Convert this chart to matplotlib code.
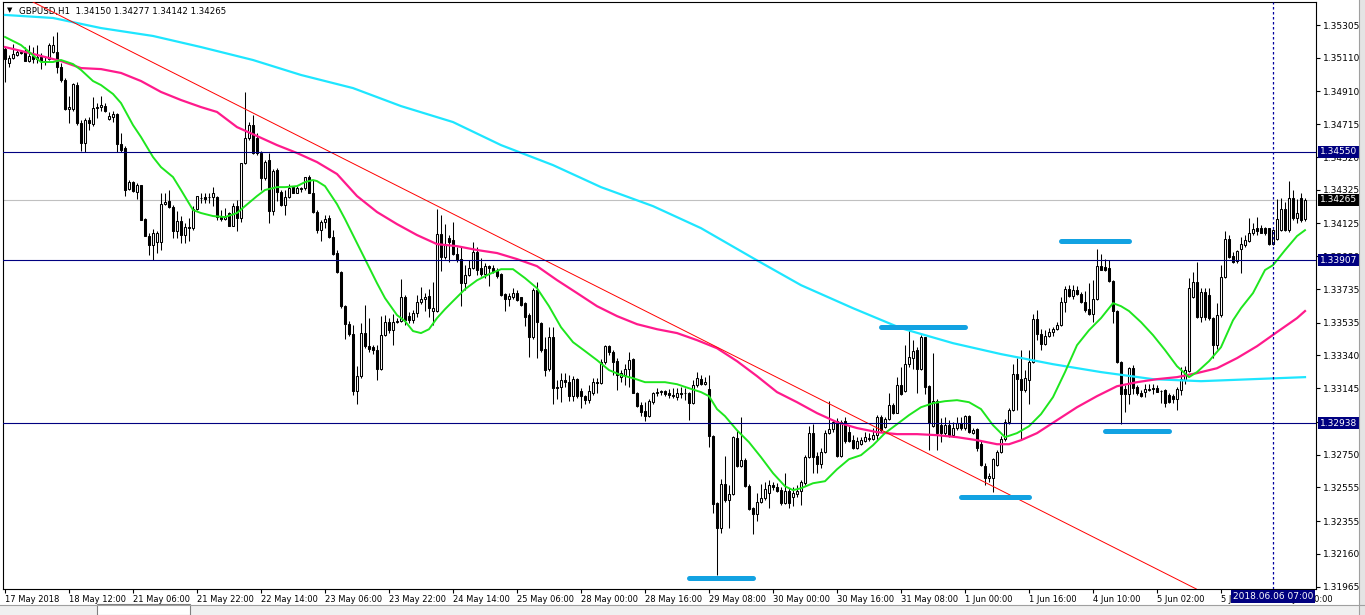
import numpy as np
import matplotlib
matplotlib.use("Agg")
import matplotlib.pyplot as plt
import matplotlib.transforms as mtrans
from matplotlib.patches import Rectangle
from matplotlib.lines import Line2D

# GBPUSD H1, one entry per hourly bar, bar 0 = 17 May 2018 20:00
opens = [
    1.35161, 1.35082, 1.35107, 1.35129, 1.35145, 1.35153, 1.35093, 1.35121, 1.35101, 1.35113,
    1.35093, 1.35101, 1.35147, 1.35147, 1.35058, 1.34979, 1.34804, 1.34808, 1.34949, 1.34725,
    1.34606, 1.34741, 1.34717, 1.34810, 1.34816, 1.34824, 1.34749, 1.34761, 1.34775, 1.34598,
    1.34573, 1.34329, 1.34371, 1.34315, 1.34351, 1.34151, 1.34052, 1.33999, 1.34012, 1.34012,
    1.34242, 1.34260, 1.34222, 1.34078, 1.34141, 1.34058, 1.34103, 1.34097, 1.34210, 1.34275,
    1.34281, 1.34281, 1.34281, 1.34285, 1.34162, 1.34150, 1.34190, 1.34111, 1.34230, 1.34156,
    1.34483, 1.34632, 1.34711, 1.34632, 1.34546, 1.34394, 1.34503, 1.34202, 1.34443, 1.34315,
    1.34236, 1.34285, 1.34340, 1.34309, 1.34335, 1.34335, 1.34400, 1.34309, 1.34196, 1.34087,
    1.34131, 1.34156, 1.34043, 1.33948, 1.33834, 1.33636, 1.33529, 1.33470, 1.33127, 1.33216,
    1.33473, 1.33394, 1.33390, 1.33370, 1.33259, 1.33463, 1.33537, 1.33489, 1.33541, 1.33547,
    1.33686, 1.33575, 1.33551, 1.33591, 1.33660, 1.33674, 1.33694, 1.33607, 1.33607, 1.34062,
    1.33923, 1.34036, 1.34026, 1.33943, 1.33912, 1.33773, 1.33819, 1.33858, 1.33957, 1.33858,
    1.33824, 1.33872, 1.33858, 1.33844, 1.33824, 1.33704, 1.33674, 1.33686, 1.33710, 1.33686,
    1.33654, 1.33581, 1.33448, 1.33729, 1.33531, 1.33377, 1.33258, 1.33448, 1.33155, 1.33151,
    1.33195, 1.33185, 1.33096, 1.33199, 1.33126, 1.33100, 1.33076, 1.33114, 1.33183, 1.33177,
    1.33302, 1.33395, 1.33361, 1.33308, 1.33213, 1.33223, 1.33262, 1.33316, 1.33118, 1.33045,
    1.33011, 1.32979, 1.33064, 1.33114, 1.33124, 1.33130, 1.33118, 1.33104, 1.33094, 1.33114,
    1.33114, 1.33114, 1.33058, 1.33163, 1.33197, 1.33173, 1.33138, 1.32860, 1.32464, 1.32312,
    1.32575, 1.32480, 1.32516, 1.32847, 1.32682, 1.32718, 1.32563, 1.32431, 1.32397, 1.32470,
    1.32490, 1.32524, 1.32569, 1.32559, 1.32540, 1.32460, 1.32536, 1.32497, 1.32516, 1.32536,
    1.32580, 1.32734, 1.32877, 1.32742, 1.32695, 1.32768, 1.32881, 1.32901, 1.32952, 1.32742,
    1.32952, 1.32887, 1.32837, 1.32788, 1.32813, 1.32833, 1.32841, 1.32841, 1.32867, 1.32976,
    1.32916, 1.32960, 1.33045, 1.32999, 1.33164, 1.33130, 1.33289, 1.33322, 1.33372, 1.33257,
    1.33447, 1.33158, 1.32920, 1.33071, 1.32926, 1.32877, 1.32926, 1.32867, 1.32906, 1.32936,
    1.32906, 1.32980, 1.32880, 1.32900, 1.32813, 1.32682, 1.32609, 1.32609, 1.32688, 1.32767,
    1.32846, 1.32946, 1.33014, 1.33228, 1.33197, 1.33133, 1.33193, 1.33302, 1.33554, 1.33466,
    1.33407, 1.33454, 1.33480, 1.33500, 1.33520, 1.33659, 1.33738, 1.33692, 1.33732, 1.33708,
    1.33659, 1.33615, 1.33589, 1.33673, 1.33871, 1.33867, 1.33863, 1.33784, 1.33605, 1.33302,
    1.33143, 1.33109, 1.33268, 1.33153, 1.33117, 1.33123, 1.33133, 1.33149, 1.33149, 1.33129,
    1.33137, 1.33104, 1.33098, 1.33078, 1.33134, 1.33193, 1.33250, 1.33689, 1.33779, 1.33570,
    1.33720, 1.33700, 1.33560, 1.33401, 1.33580, 1.33808, 1.34030, 1.33931, 1.33903, 1.33971,
    1.33997, 1.34022, 1.34066, 1.34098, 1.34098, 1.34096, 1.34096, 1.34003, 1.34030, 1.34086,
    1.34209, 1.34086, 1.34274, 1.34155, 1.34274, 1.34150,
]
highs = [
    1.35173, 1.35127, 1.35192, 1.35161, 1.35157, 1.35177, 1.35187, 1.35177, 1.35187, 1.35137,
    1.35117, 1.35200, 1.35240, 1.35266, 1.35078, 1.34989, 1.34880, 1.34963, 1.34969, 1.34741,
    1.34751, 1.34761, 1.34876, 1.34844, 1.34884, 1.34840, 1.34790, 1.34796, 1.34781, 1.34662,
    1.34583, 1.34385, 1.34379, 1.34365, 1.34355, 1.34157, 1.34068, 1.34092, 1.34078, 1.34305,
    1.34305, 1.34321, 1.34236, 1.34197, 1.34167, 1.34127, 1.34157, 1.34226, 1.34290, 1.34305,
    1.34305, 1.34305, 1.34340, 1.34289, 1.34206, 1.34216, 1.34196, 1.34245, 1.34265, 1.34487,
    1.34907, 1.34730, 1.34770, 1.34661, 1.34558, 1.34503, 1.34546, 1.34447, 1.34453, 1.34325,
    1.34325, 1.34360, 1.34348, 1.34348, 1.34344, 1.34404, 1.34414, 1.34384, 1.34206, 1.34146,
    1.34176, 1.34176, 1.34087, 1.33968, 1.33840, 1.33642, 1.33543, 1.33523, 1.33275, 1.33533,
    1.33642, 1.33562, 1.33404, 1.33404, 1.33572, 1.33582, 1.33562, 1.33588, 1.33561, 1.33793,
    1.33700, 1.33601, 1.33611, 1.33700, 1.33749, 1.33710, 1.33733, 1.33779, 1.34209, 1.34175,
    1.34121, 1.34056, 1.34135, 1.33987, 1.33987, 1.33878, 1.33908, 1.34016, 1.33987, 1.33918,
    1.33888, 1.33878, 1.33878, 1.33858, 1.33832, 1.33710, 1.33710, 1.33739, 1.33729, 1.33690,
    1.33660, 1.33591, 1.33739, 1.33779, 1.33541, 1.33452, 1.33512, 1.33512, 1.33195, 1.33234,
    1.33238, 1.33225, 1.33215, 1.33205, 1.33145, 1.33106, 1.33165, 1.33203, 1.33203, 1.33316,
    1.33401, 1.33401, 1.33371, 1.33322, 1.33252, 1.33292, 1.33361, 1.33322, 1.33124, 1.33064,
    1.33064, 1.33078, 1.33124, 1.33144, 1.33134, 1.33134, 1.33138, 1.33144, 1.33144, 1.33153,
    1.33144, 1.33124, 1.33193, 1.33243, 1.33223, 1.33213, 1.33223, 1.32866, 1.32470, 1.32603,
    1.32742, 1.32569, 1.32860, 1.32896, 1.32971, 1.32728, 1.32575, 1.32441, 1.32520, 1.32575,
    1.32589, 1.32599, 1.32589, 1.32579, 1.32559, 1.32639, 1.32550, 1.32560, 1.32570, 1.32600,
    1.32748, 1.32920, 1.32932, 1.32768, 1.32788, 1.32897, 1.33071, 1.32956, 1.32966, 1.32956,
    1.32976, 1.32920, 1.32867, 1.32857, 1.32857, 1.32887, 1.32877, 1.32907, 1.32986, 1.32986,
    1.32972, 1.33118, 1.33055, 1.33209, 1.33273, 1.33402, 1.33495, 1.33431, 1.33388, 1.33461,
    1.33451, 1.33164, 1.33352, 1.33079, 1.32966, 1.32976, 1.32956, 1.32946, 1.32976, 1.32972,
    1.32986, 1.32986, 1.32906, 1.32906, 1.32830, 1.32700, 1.32640, 1.32730, 1.32780, 1.32860,
    1.32960, 1.33030, 1.33292, 1.33322, 1.33371, 1.33252, 1.33375, 1.33589, 1.33613, 1.33500,
    1.33490, 1.33506, 1.33510, 1.33540, 1.33688, 1.33752, 1.33758, 1.33758, 1.33752, 1.33718,
    1.33724, 1.33768, 1.33788, 1.33976, 1.33942, 1.33916, 1.33910, 1.33788, 1.33613, 1.33308,
    1.33163, 1.33272, 1.33282, 1.33163, 1.33133, 1.33173, 1.33168, 1.33170, 1.33163, 1.33137,
    1.33143, 1.33114, 1.33110, 1.33150, 1.33273, 1.33277, 1.33800, 1.33838, 1.33898, 1.33740,
    1.33740, 1.33740, 1.33570, 1.33650, 1.33878, 1.34082, 1.34056, 1.33957, 1.33967, 1.34042,
    1.34056, 1.34155, 1.34129, 1.34165, 1.34115, 1.34102, 1.34100, 1.34090, 1.34268, 1.34274,
    1.34250, 1.34375, 1.34324, 1.34268, 1.34304, 1.34277,
]
lows = [
    1.34969, 1.35054, 1.35101, 1.35121, 1.35133, 1.35089, 1.35087, 1.35078, 1.35082, 1.35042,
    1.35068, 1.35097, 1.35137, 1.35018, 1.34969, 1.34800, 1.34721, 1.34796, 1.34711, 1.34553,
    1.34547, 1.34682, 1.34705, 1.34751, 1.34796, 1.34785, 1.34741, 1.34731, 1.34547, 1.34547,
    1.34286, 1.34321, 1.34315, 1.34272, 1.34143, 1.34048, 1.33939, 1.33905, 1.33949, 1.33969,
    1.34234, 1.34216, 1.34038, 1.34038, 1.34008, 1.34008, 1.34018, 1.34088, 1.34206, 1.34245,
    1.34249, 1.34245, 1.34230, 1.34146, 1.34142, 1.34146, 1.34107, 1.34107, 1.34083, 1.34131,
    1.34479, 1.34622, 1.34538, 1.34532, 1.34325, 1.34384, 1.34127, 1.34176, 1.34261, 1.34230,
    1.34176, 1.34275, 1.34305, 1.34305, 1.34315, 1.34325, 1.34305, 1.34190, 1.34067, 1.34018,
    1.34097, 1.34038, 1.33938, 1.33830, 1.33622, 1.33438, 1.33454, 1.33107, 1.33053, 1.33206,
    1.33384, 1.33358, 1.33350, 1.33196, 1.33255, 1.33453, 1.33473, 1.33400, 1.33531, 1.33541,
    1.33522, 1.33531, 1.33531, 1.33567, 1.33646, 1.33607, 1.33567, 1.33522, 1.33601, 1.33844,
    1.33912, 1.33898, 1.33937, 1.33898, 1.33634, 1.33729, 1.33813, 1.33852, 1.33819, 1.33813,
    1.33799, 1.33753, 1.33828, 1.33799, 1.33694, 1.33607, 1.33634, 1.33674, 1.33666, 1.33634,
    1.33516, 1.33333, 1.33436, 1.33323, 1.33363, 1.33215, 1.33250, 1.33052, 1.33080, 1.33066,
    1.33155, 1.33072, 1.33072, 1.33086, 1.33027, 1.33052, 1.33056, 1.33104, 1.33118, 1.33173,
    1.33292, 1.33342, 1.33223, 1.33134, 1.33183, 1.33163, 1.33153, 1.33114, 1.33035, 1.32979,
    1.32952, 1.32971, 1.33054, 1.33098, 1.33104, 1.33098, 1.33084, 1.33084, 1.33074, 1.33084,
    1.33074, 1.32959, 1.33050, 1.33153, 1.33163, 1.33163, 1.32797, 1.32405, 1.32035, 1.32282,
    1.32470, 1.32312, 1.32510, 1.32678, 1.32674, 1.32559, 1.32421, 1.32278, 1.32357, 1.32460,
    1.32480, 1.32431, 1.32540, 1.32530, 1.32450, 1.32456, 1.32431, 1.32445, 1.32501, 1.32451,
    1.32570, 1.32728, 1.32639, 1.32639, 1.32669, 1.32758, 1.32873, 1.32887, 1.32738, 1.32738,
    1.32821, 1.32827, 1.32782, 1.32782, 1.32808, 1.32827, 1.32833, 1.32837, 1.32837, 1.32887,
    1.32906, 1.32956, 1.32992, 1.32996, 1.33105, 1.33124, 1.33273, 1.33257, 1.33118, 1.33253,
    1.33110, 1.32778, 1.32916, 1.32778, 1.32827, 1.32867, 1.32857, 1.32857, 1.32897, 1.32897,
    1.32897, 1.32877, 1.32870, 1.32770, 1.32680, 1.32569, 1.32590, 1.32529, 1.32680, 1.32760,
    1.32830, 1.32930, 1.33010, 1.33014, 1.32836, 1.33120, 1.33054, 1.33296, 1.33431, 1.33371,
    1.33401, 1.33450, 1.33454, 1.33494, 1.33514, 1.33599, 1.33688, 1.33678, 1.33698, 1.33653,
    1.33599, 1.33579, 1.33540, 1.33669, 1.33847, 1.33843, 1.33778, 1.33530, 1.33296, 1.32935,
    1.33004, 1.33054, 1.33113, 1.33103, 1.33094, 1.33094, 1.33129, 1.33110, 1.33123, 1.33055,
    1.33035, 1.33055, 1.33055, 1.33015, 1.33105, 1.33173, 1.33240, 1.33680, 1.33560, 1.33540,
    1.33550, 1.33550, 1.33322, 1.33380, 1.33570, 1.33800, 1.33917, 1.33887, 1.33887, 1.33828,
    1.33987, 1.34016, 1.34056, 1.34056, 1.34066, 1.34056, 1.33997, 1.33997, 1.34026, 1.34082,
    1.34080, 1.34076, 1.34145, 1.34130, 1.34135, 1.34142,
]
closes = [
    1.35101, 1.35107, 1.35133, 1.35145, 1.35141, 1.35093, 1.35121, 1.35101, 1.35113, 1.35093,
    1.35087, 1.35187, 1.35187, 1.35058, 1.34979, 1.34804, 1.34816, 1.34955, 1.34725, 1.34606,
    1.34741, 1.34721, 1.34810, 1.34816, 1.34828, 1.34796, 1.34765, 1.34775, 1.34598, 1.34563,
    1.34325, 1.34371, 1.34319, 1.34351, 1.34147, 1.34052, 1.33999, 1.34068, 1.34068, 1.34242,
    1.34254, 1.34222, 1.34078, 1.34137, 1.34058, 1.34103, 1.34100, 1.34210, 1.34286, 1.34278,
    1.34273, 1.34283, 1.34305, 1.34162, 1.34150, 1.34166, 1.34111, 1.34230, 1.34156, 1.34483,
    1.34632, 1.34711, 1.34546, 1.34542, 1.34394, 1.34493, 1.34202, 1.34439, 1.34315, 1.34236,
    1.34285, 1.34335, 1.34309, 1.34335, 1.34329, 1.34400, 1.34309, 1.34196, 1.34087, 1.34131,
    1.34150, 1.34043, 1.33944, 1.33834, 1.33632, 1.33529, 1.33470, 1.33127, 1.33220, 1.33473,
    1.33394, 1.33378, 1.33370, 1.33259, 1.33463, 1.33537, 1.33489, 1.33537, 1.33547, 1.33686,
    1.33551, 1.33551, 1.33591, 1.33660, 1.33674, 1.33690, 1.33621, 1.33621, 1.34062, 1.33923,
    1.33997, 1.34016, 1.33943, 1.33908, 1.33773, 1.33819, 1.33858, 1.33957, 1.33848, 1.33824,
    1.33872, 1.33858, 1.33844, 1.33813, 1.33700, 1.33674, 1.33694, 1.33710, 1.33670, 1.33640,
    1.33571, 1.33448, 1.33729, 1.33541, 1.33373, 1.33254, 1.33448, 1.33145, 1.33145, 1.33195,
    1.33185, 1.33096, 1.33199, 1.33096, 1.33096, 1.33076, 1.33126, 1.33183, 1.33177, 1.33302,
    1.33395, 1.33361, 1.33302, 1.33223, 1.33233, 1.33262, 1.33312, 1.33118, 1.33039, 1.33005,
    1.32979, 1.33070, 1.33114, 1.33124, 1.33126, 1.33110, 1.33104, 1.33098, 1.33114, 1.33110,
    1.33116, 1.33058, 1.33163, 1.33203, 1.33169, 1.33183, 1.32860, 1.32456, 1.32312, 1.32575,
    1.32480, 1.32516, 1.32854, 1.32682, 1.32718, 1.32563, 1.32425, 1.32397, 1.32470, 1.32490,
    1.32544, 1.32569, 1.32555, 1.32536, 1.32460, 1.32536, 1.32461, 1.32520, 1.32536, 1.32590,
    1.32738, 1.32877, 1.32738, 1.32695, 1.32768, 1.32881, 1.32901, 1.32946, 1.32742, 1.32946,
    1.32833, 1.32833, 1.32788, 1.32833, 1.32837, 1.32853, 1.32847, 1.32867, 1.32972, 1.32897,
    1.32960, 1.33045, 1.32999, 1.33164, 1.33110, 1.33289, 1.33328, 1.33368, 1.33257, 1.33447,
    1.33154, 1.32940, 1.33071, 1.32881, 1.32877, 1.32926, 1.32867, 1.32906, 1.32936, 1.32906,
    1.32980, 1.32887, 1.32896, 1.32790, 1.32688, 1.32614, 1.32622, 1.32722, 1.32767, 1.32846,
    1.32946, 1.33015, 1.33232, 1.33197, 1.33133, 1.33203, 1.33302, 1.33554, 1.33466, 1.33407,
    1.33454, 1.33480, 1.33500, 1.33520, 1.33659, 1.33738, 1.33692, 1.33732, 1.33708, 1.33659,
    1.33609, 1.33589, 1.33673, 1.33871, 1.33851, 1.33847, 1.33784, 1.33605, 1.33302, 1.33113,
    1.33109, 1.33268, 1.33149, 1.33117, 1.33098, 1.33143, 1.33143, 1.33139, 1.33125, 1.33129,
    1.33058, 1.33064, 1.33078, 1.33138, 1.33197, 1.33253, 1.33739, 1.33779, 1.33570, 1.33720,
    1.33570, 1.33560, 1.33401, 1.33580, 1.33808, 1.34030, 1.33923, 1.33897, 1.33963, 1.34003,
    1.34026, 1.34066, 1.34090, 1.34082, 1.34070, 1.34066, 1.34001, 1.34086, 1.34150, 1.34209,
    1.34086, 1.34274, 1.34155, 1.34185, 1.34145, 1.34265,
]

# moving averages at some bars
ma_fast_bars = [0, 4, 9, 12, 14, 17, 19, 22, 24, 27, 29, 32, 34, 37, 39, 42, 44, 47, 49, 52,
                55, 58, 60, 63, 65, 68, 70, 73, 75, 77, 78, 80, 83, 85, 88, 90, 93, 95, 98, 100,
                102, 104, 106, 108, 110, 112, 115, 118, 121, 124, 127, 130, 133, 136, 139, 142, 145, 148, 151, 154,
                157, 160, 165, 168, 171, 174, 176, 178, 180, 183, 186, 189, 192, 195, 197, 199, 202, 205, 208, 211,
                214, 217, 220, 223, 226, 229, 232, 235, 238, 241, 244, 247, 250, 253, 256, 259, 262, 265, 268, 271,
                274, 277, 279, 281, 284, 287, 290, 293, 296, 298, 301, 304, 307, 309, 312, 315, 317, 320, 323, 325]
ma_fast = [1.35234, 1.35186, 1.35085, 1.35085, 1.35097, 1.35073, 1.35038, 1.34972, 1.34948, 1.34895,
           1.34841, 1.34710, 1.34639, 1.34520, 1.34460, 1.34401, 1.34324, 1.34205, 1.34187, 1.34169,
           1.34163, 1.34187, 1.34228, 1.34288, 1.34324, 1.34341, 1.34341, 1.34347, 1.34371, 1.34383,
           1.34377, 1.34347, 1.34240, 1.34151, 1.34008, 1.33913, 1.33770, 1.33681, 1.33580, 1.33544,
           1.33485, 1.33473, 1.33496, 1.33562, 1.33615, 1.33663, 1.33734, 1.33787, 1.33823, 1.33853,
           1.33853, 1.33800, 1.33740, 1.33633, 1.33508, 1.33419, 1.33366, 1.33312, 1.33253, 1.33223,
           1.33205, 1.33181, 1.33181, 1.33169, 1.33145, 1.33122, 1.33098, 1.33021, 1.32979, 1.32895,
           1.32824, 1.32735, 1.32640, 1.32562, 1.32539, 1.32550, 1.32580, 1.32592, 1.32663, 1.32723,
           1.32747, 1.32806, 1.32878, 1.32931, 1.32985, 1.33032, 1.33056, 1.33068, 1.33074, 1.33062,
           1.33021, 1.32925, 1.32854, 1.32878, 1.32919, 1.32991, 1.33092, 1.33241, 1.33401, 1.33490,
           1.33562, 1.33651, 1.33633, 1.33604, 1.33538, 1.33461, 1.33372, 1.33276, 1.33211, 1.33241,
           1.33306, 1.33389, 1.33549, 1.33621, 1.33711, 1.33848, 1.33877, 1.33966, 1.34050, 1.34085]

ma_mid_bars = [0, 4, 9, 14, 19, 24, 29, 34, 39, 44, 49, 53, 58, 63, 68, 73, 78, 83, 88, 93,
               98, 103, 108, 113, 118, 123, 128, 133, 138, 143, 148, 153, 158, 163, 168, 173, 178, 183, 188, 193,
               198, 203, 208, 213, 218, 223, 228, 233, 238, 243, 248, 251, 254, 258, 263, 268, 273, 278, 283, 288,
               293, 298, 303, 308, 313, 318, 323, 325]
ma_mid = [1.35174, 1.35151, 1.35121, 1.35091, 1.35049, 1.35043, 1.35020, 1.34972, 1.34907, 1.34859,
          1.34817, 1.34788, 1.34698, 1.34645, 1.34591, 1.34544, 1.34490, 1.34419, 1.34288, 1.34193,
          1.34121, 1.34056, 1.34002, 1.33990, 1.33967, 1.33949, 1.33913, 1.33871, 1.33788, 1.33711,
          1.33633, 1.33574, 1.33526, 1.33496, 1.33473, 1.33431, 1.33383, 1.33306, 1.33217, 1.33122,
          1.33062, 1.32997, 1.32943, 1.32908, 1.32884, 1.32872, 1.32872, 1.32866, 1.32854, 1.32836,
          1.32812, 1.32812, 1.32836, 1.32878, 1.32955, 1.33032, 1.33098, 1.33157, 1.33181, 1.33199,
          1.33211, 1.33235, 1.33264, 1.33324, 1.33395, 1.33479, 1.33562, 1.33604]

ma_slow_bars = [0, 12, 24, 37, 49, 62, 74, 87, 99, 112, 124, 137, 149, 162, 174, 187, 199, 212,
                224, 237, 249, 262, 274, 287, 299, 312, 325]
ma_slow = [1.35365, 1.35347, 1.35287, 1.35240, 1.35174, 1.35097, 1.35008, 1.34930, 1.34823, 1.34728,
           1.34591, 1.34472, 1.34341, 1.34228, 1.34097, 1.33919, 1.33758, 1.33621, 1.33502, 1.33413,
           1.33348, 1.33288, 1.33241, 1.33199, 1.33187, 1.33199, 1.33211]

# time axis, a label every 16 bars
time_labels = ["17 May 2018", "18 May 12:00", "21 May 06:00", "21 May 22:00", "22 May 14:00",
               "23 May 06:00", "23 May 22:00", "24 May 14:00", "25 May 06:00", "28 May 00:00",
               "28 May 16:00", "29 May 08:00", "30 May 00:00", "30 May 16:00", "31 May 08:00",
               "1 Jun 00:00", "1 Jun 16:00", "4 Jun 10:00", "5 Jun 02:00", "5 Jun 18:00", "6 Jun 10:00"]
price_ticks = [1.35305, 1.35110, 1.34910, 1.34715, 1.34520, 1.34325, 1.34125, 1.33930, 1.33735,
               1.33535, 1.33340, 1.33145, 1.32945, 1.32750, 1.32555, 1.32355, 1.32160, 1.31965]

levels = [1.34550, 1.33907, 1.32938]
bid = 1.34265
cursor_bar = 317
cursor_text = "2018.06.06 07:00"

# trendline anchors (bar, price)
trend_bars = [8, 298]
trend_prices = [1.35430, 1.31949]

# blue marks: price, first bar, last bar
mark_prices = [1.32015, 1.33508, 1.32497, 1.34020, 1.32890]
mark_first = [171, 219, 239, 264, 275]
mark_last = [187, 240, 256, 281, 291]

plt.rcParams['font.family'] = 'DejaVu Sans'
fs = 6.5
navy = '#000080'

fig = plt.figure(figsize=(13.65, 6.15), dpi=100)
ax = fig.add_axes([3/1365, 1 - 589/615, 1313/1365, 587/615])
ax.set_xlim(-0.5, 327.75)
ax.set_ylim(1.31951, 1.35442)

# candles
x = np.arange(len(closes))
o = np.array(opens)
c = np.array(closes)
ax.vlines(x, lows, highs, color='black', lw=0.75, zorder=2)
body_bot = np.minimum(o, c)
body_h = np.maximum(np.abs(c - o), 0.000005)
fills = ['white' if cc >= oo else 'black' for oo, cc in zip(o, c)]
ax.bar(x, body_h, width=0.55, bottom=body_bot, color=fills, edgecolor='black', linewidth=0.75, zorder=3)

# moving averages
ax.plot(ma_slow_bars, ma_slow, color='#1ee6ff', lw=1.6, zorder=4)
ax.plot(ma_mid_bars, ma_mid, color='#ff1a8c', lw=1.6, zorder=4)
ax.plot(ma_fast_bars, ma_fast, color='#1ee61e', lw=1.4, zorder=4)

# trendline
ax.axline((trend_bars[0], trend_prices[0]), (trend_bars[1], trend_prices[1]), color='red', lw=0.7, zorder=4)

# horizontal levels and bid line
for lv in levels:
    ax.axhline(lv, color=navy, lw=0.8, zorder=4)
ax.axhline(bid, color='#c0c0c0', lw=0.8, zorder=1)

# cursor line
ax.axvline(cursor_bar, color='#0000a0', lw=0.9, ls=(0, (2, 2)), zorder=4)

# blue marks
for p, b0, b1 in zip(mark_prices, mark_first, mark_last):
    ax.plot([b0, b1], [p, p], color='#12a2e2', lw=3.6, solid_capstyle='round', zorder=5)

# axes styling
for s in ax.spines.values():
    s.set_color('black')
    s.set_linewidth(0.8)
ax.yaxis.tick_right()
ax.set_yticks(price_ticks)
ax.set_yticklabels([f"{p:.5f}" for p in price_ticks])
ax.tick_params(axis='y', direction='out', length=3, width=0.8, pad=2, labelsize=fs)
ax.set_xticks(np.arange(len(time_labels)) * 16)
ax.set_xticklabels(time_labels)
for lbl in ax.get_xticklabels():
    lbl.set_horizontalalignment('left')
ax.tick_params(axis='x', direction='out', length=3, width=0.8, pad=1.5, labelsize=6)

# header
ax.text(0.003, 0.992, "\u25bc", transform=ax.transAxes, va='top', ha='left', fontsize=5)
ax.text(0.012, 0.992, f"GBPUSD,H1  {opens[-1]:.5f} {highs[-1]:.5f} {lows[-1]:.5f} {closes[-1]:.5f}",
        transform=ax.transAxes, va='top', ha='left', fontsize=6.2)

# price boxes on the scale
ytr = mtrans.blended_transform_factory(ax.transAxes, ax.transData)
for lv in levels:
    ax.text(1.0028, lv, f"{lv:.5f}", transform=ytr, ha='left', va='center', fontsize=fs, color='white',
            bbox=dict(boxstyle='square,pad=0.2', fc=navy, ec='none'), clip_on=False, zorder=10)
ax.text(1.0028, bid, f"{bid:.5f}", transform=ytr, ha='left', va='center', fontsize=fs, color='white',
        bbox=dict(boxstyle='square,pad=0.2', fc='black', ec='none'), clip_on=False, zorder=10)

# cursor time box
xtr = mtrans.blended_transform_factory(ax.transData, ax.transAxes)
ax.text(cursor_bar, -0.0128, cursor_text, transform=xtr, ha='center', va='center', fontsize=fs,
        color='white', bbox=dict(boxstyle='square,pad=0.2', fc=navy, ec='none'), clip_on=False, zorder=10)

# window chrome: tab strip at bottom and scroll edge at right
fig.patches.append(Rectangle((0, 0), 1, 10/615, transform=fig.transFigure, fc='#f0f0f0', ec='none', zorder=0))
fig.lines.append(Line2D([0, 1], [10/615, 10/615], transform=fig.transFigure, color='#a0a0a0', lw=0.8))
fig.patches.append(Rectangle((97/1365, 0), 93/1365, 11/615, transform=fig.transFigure, fc='white',
                             ec='#808080', lw=0.8))
fig.patches.append(Rectangle((1359/1365, 0), 6/1365, 1, transform=fig.transFigure, fc='#e4e4e4', ec='none'))
fig.lines.append(Line2D([1359/1365, 1359/1365], [0, 1], transform=fig.transFigure, color='#a0a0a0', lw=0.8))

fig.savefig('out.png', dpi=100)
